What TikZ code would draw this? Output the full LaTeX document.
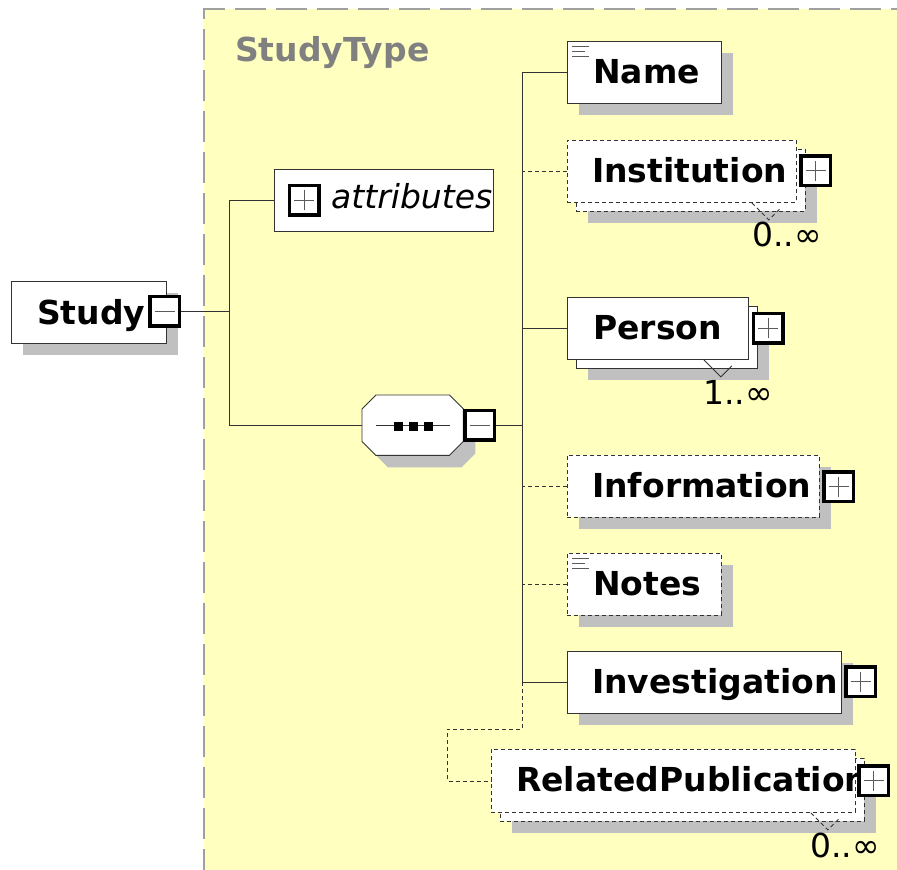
\documentclass[tikz,border=0pt]{standalone}
\usepackage{fontspec}
\setmainfont{DejaVu Sans}
\usetikzlibrary{calc}
\definecolor{bg}{RGB}{255,255,192}
\definecolor{shadowgray}{RGB}{192,192,192}
\definecolor{frame}{RGB}{160,160,160}
\definecolor{edge}{RGB}{51,51,51}
\definecolor{titlegray}{RGB}{128,128,128}
\definecolor{crossgray}{RGB}{90,90,90}

\tikzset{
  elembox/.style={draw=edge, fill=white, line width=0.9pt, rectangle, inner sep=0pt, anchor=north west},
  optbox/.style={elembox, dash pattern=on 4pt off 3pt},
  dropshadow/.style={fill=shadowgray},
  lbl/.style={font=\fontsize{33}{39}\selectfont\bfseries, anchor=base west, inner sep=0pt},
  attrlbl/.style={font=\fontsize{33}{39}\selectfont\itshape, anchor=base west, inner sep=0pt},
  mult/.style={font=\fontsize{33}{39}\selectfont, anchor=base west, inner sep=0pt},
  title/.style={font=\fontsize{33}{39}\selectfont\bfseries, text=titlegray, anchor=base west, inner sep=0pt},
  toggle/.style={draw=black, line width=3.5pt, fill=white, minimum size=29.5pt, inner sep=0pt},
  minusbox/.style={toggle, path picture={
      \draw[crossgray, line width=0.8pt] ([xshift=-10pt]path picture bounding box.center) -- ([xshift=10pt]path picture bounding box.center);}},
  plusbox/.style={toggle, path picture={
      \draw[crossgray, line width=0.8pt] ([xshift=-10pt]path picture bounding box.center) -- ([xshift=10pt]path picture bounding box.center);
      \draw[crossgray, line width=0.8pt] ([yshift=-10pt]path picture bounding box.center) -- ([yshift=10pt]path picture bounding box.center);}},
  wire/.style={draw=edge, line width=0.9pt},
  optwire/.style={wire, dash pattern=on 4pt off 3pt},
  iconline/.style={draw=crossgray, line width=0.8pt},
}

\begin{document}
\begin{tikzpicture}[x=1pt,y=-1pt]
\useasboundingbox (0,0) rectangle (897,870);
\clip (0,0) rectangle (897,870);

% complex type region
\fill[bg] (204,9) rectangle (905,880);
\draw[frame, line width=1.2pt, dash pattern=on 31pt off 10pt] (204,880) -- (204,9) -- (905,9);
\node[title] (typename) at (235,61) {StudyType};

% root element
\fill[dropshadow] (23,293) rectangle ++(155,62);
\node[elembox, minimum width=155, minimum height=62] (study) at (11,281) {};
\node[lbl] (studylbl) at (37,324) {Study};
\node[minusbox] (studyT) at (164.5,311) {};

% attribute group
\node[elembox, minimum width=219, minimum height=62] (attrs) at (274,169) {};
\node[plusbox] (attrsT) at (304,200) {};
\node[attrlbl] (attrslbl) at (331,208) {attributes};

% sequence compositor
\node[inner sep=0pt, minimum width=101, minimum height=60, anchor=north west] (seq) at (362,395) {};
\fill[dropshadow] ($(seq.north west)+(26,12)$) -- ($(seq.north east)+(-2,12)$) -- ($(seq.north east)+(12,26)$)
  -- ($(seq.south east)+(12,-2)$) -- ($(seq.south east)+(-2,12)$) -- ($(seq.south west)+(26,12)$)
  -- ($(seq.south west)+(12,-2)$) -- ($(seq.north west)+(12,26)$) -- cycle;
\filldraw[fill=white, draw=edge, line width=0.9pt]
  ($(seq.north west)+(14,0)$) -- ($(seq.north east)+(-14,0)$) -- ($(seq.north east)+(0,14)$)
  -- ($(seq.south east)+(0,-14)$) -- ($(seq.south east)+(-14,0)$) -- ($(seq.south west)+(14,0)$)
  -- ($(seq.south west)+(0,-14)$) -- ($(seq.north west)+(0,14)$) -- cycle;
\draw[wire] ($(seq.west)+(14,0)$) -- ($(seq.east)+(-13,0)$);
\foreach \dx in {36.5,51.5,66.5}
  \fill[black] ($(seq.west)+(\dx,1)+(-4.5,-4.5)$) rectangle ++(9,9);
\node[minusbox] (seqT) at (479.5,425) {};

% Name
\fill[dropshadow] (579,53) rectangle ++(154,62);
\node[elembox, minimum width=154, minimum height=62] (name) at (567,41) {};
\draw[iconline] (572,46) -- ++(17,0) (572,51) -- ++(13,0) (572,56) -- ++(17,0);
\node[lbl] (namelbl) at (593,83) {Name};

% Institution (0..unbounded, optional)
\fill[dropshadow] (588,161) rectangle ++(229,62);
\node[optbox, minimum width=229, minimum height=62] (instback) at (576,149) {};
\node[optbox, minimum width=229, minimum height=62] (inst) at (567,140) {};
\node[lbl] (instlbl) at (592,182) {Institution};
\node[plusbox] (instT) at (815.5,170.5) {};
\draw[optwire] ($(inst.south east)+(-45,0)$) -- ++(17,17) -- ++(11,-11);
\node[mult] (instmult) at (752,246) {0..∞};

% Person (1..unbounded)
\fill[dropshadow] (588,318) rectangle ++(181,62);
\node[elembox, minimum width=181, minimum height=62] (persback) at (576,306) {};
\node[elembox, minimum width=181, minimum height=62] (pers) at (567,297) {};
\node[lbl] (perslbl) at (593,339) {Person};
\node[plusbox] (persT) at (768,328) {};
\draw[wire] ($(pers.south east)+(-45,0)$) -- ++(17,17) -- ++(11,-11);
\node[mult] (persmult) at (703,404) {1..∞};

% Information (optional)
\fill[dropshadow] (579,467) rectangle ++(252,62);
\node[optbox, minimum width=252, minimum height=62] (info) at (567,455) {};
\node[lbl] (infolbl) at (592,497) {Information};
\node[plusbox] (infoT) at (838.5,486.5) {};

% Notes (optional)
\fill[dropshadow] (579,565) rectangle ++(154,62);
\node[optbox, minimum width=154, minimum height=62] (notes) at (567,553) {};
\draw[iconline] (572,558) -- ++(17,0) (572,563) -- ++(13,0) (572,568) -- ++(17,0);
\node[lbl] (noteslbl) at (593,595) {Notes};

% Investigation
\fill[dropshadow] (579,663) rectangle ++(274,62);
\node[elembox, minimum width=274, minimum height=62] (invest) at (567,651) {};
\node[lbl] (investlbl) at (592,693) {Investigation};
\node[plusbox] (investT) at (860.5,681.5) {};

% RelatedPublication (0..unbounded, optional)
\fill[dropshadow] (512,770) rectangle ++(364,63);
\node[optbox, minimum width=364, minimum height=63] (relback) at (500,758) {};
\node[optbox, minimum width=364, minimum height=63] (rel) at (491,749) {};
\node[lbl] (rellbl) at (516,791) {RelatedPublication};
\node[plusbox] (relT) at (873.5,780.5) {};
\draw[optwire] ($(rel.south east)+(-45,0)$) -- ++(17,17) -- ++(11,-11);
\node[mult] (relmult) at (810,857) {0..∞};

% connectors from the root
\coordinate (j1) at (229,311);
\draw[wire] (studyT.east) -- (j1);
\draw[wire] (attrs.west) -| (j1);
\draw[wire] (seq.west) -| (j1);

% connectors from the sequence
\coordinate (j2) at (522,425);
\draw[wire] (seqT.east) -- (j2);
\draw[wire] (j2 |- name.west) -- (j2 |- invest.west);
\draw[wire] (name.west) -- (j2 |- name.west);
\draw[optwire] (inst.west) -- (j2 |- inst.west);
\draw[wire] (pers.west) -- (j2 |- pers.west);
\draw[optwire] (info.west) -- (j2 |- info.west);
\draw[optwire] (notes.west) -- (j2 |- notes.west);
\draw[wire] (invest.west) -- (j2 |- invest.west);
\coordinate (bend) at (447,729);
\draw[optwire] (j2 |- invest.west) -- (j2 |- bend) -- (bend) |- (rel.west);
\end{tikzpicture}
\end{document}
